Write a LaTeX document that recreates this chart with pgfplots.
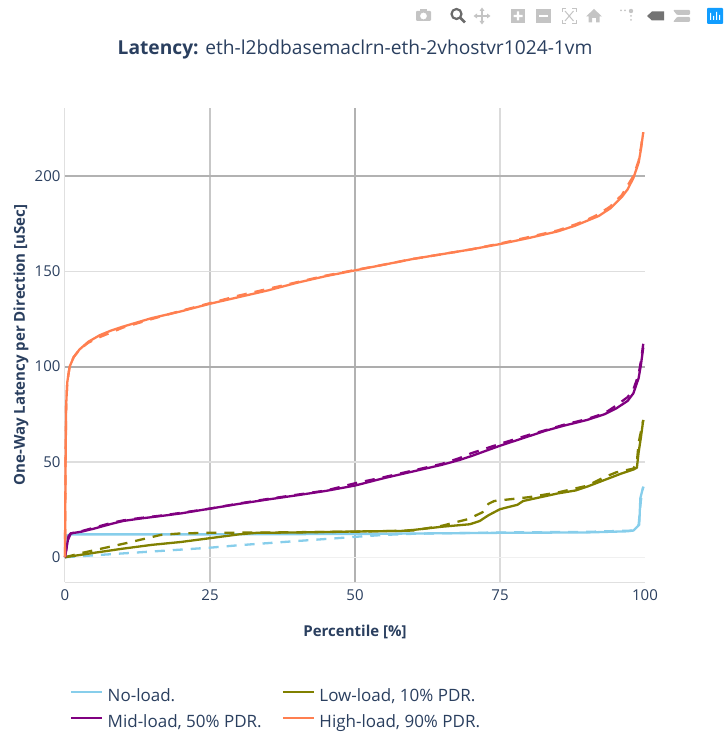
\documentclass[border=0pt]{standalone}
\usepackage{pgfplots}
\pgfplotsset{compat=1.18}
\usepackage{fontspec}
\setmainfont{Open Sans}
\definecolor{txt}{HTML}{2A3F5F}
\definecolor{noload}{HTML}{87CEEB}
\definecolor{lowload}{HTML}{808000}
\definecolor{midload}{HTML}{800080}
\definecolor{highload}{HTML}{FF7F50}
\definecolor{icon}{HTML}{C4C4C4}
\definecolor{logo}{HTML}{119DFF}
\begin{document}
\begin{tikzpicture}[x=1pt,y=1pt]
\path (0,0) rectangle (726,736);
\begin{axis}[
  at={(65pt,154pt)},anchor=south west,
  scale only axis,width=580pt,height=474pt,
  xmin=0,xmax=100,ymin=-13,ymax=235.7,
  clip=false,
  axis x line*=bottom,axis y line*=left,
  axis line style={draw=black!12,line width=1pt,-},
  xtick={0,25,50,75,100},ytick={0,50,100,150,200},
  tick style={draw=none},major tick length=0pt,
  tick label style={font=\fontsize{15}{17}\selectfont,text=txt},
  /pgf/number format/assume math mode=true,
  xticklabel style={yshift=-4pt},
  yticklabel style={xshift=-1pt},
  xlabel={\textbf{Percentile [\%]}},
  ylabel={\textbf{One-Way Latency per Direction [uSec]}},
  label style={font=\fontsize{15}{17}\selectfont,text=txt},
  xlabel style={at={(axis description cs:0.5,-0.1055)},anchor=center},
  ylabel style={at={(axis description cs:-0.076,0.5)},anchor=center,rotate=0},
  legend columns=2,
  legend style={at={(axis description cs:0.0086,-0.2148)},anchor=north west,draw=none,fill=none,
    font=\fontsize{17}{20}\selectfont,text=txt,inner sep=0pt,outer sep=0pt,
    /tikz/every even column/.append style={column sep=20pt},
    /tikz/every odd column/.append style={column sep=4.5pt},
    nodes={inner sep=0pt,text depth=8pt,text height=18pt}},
  legend cell align=left,
  legend image code/.code={\draw[#1,line width=2.2pt] (0pt,5pt) -- (31pt,5pt);},
]
% grid lines
\addplot[forget plot,draw=black!22,line width=1.3pt] coordinates {(25,-13)(25,235.7)};
\addplot[forget plot,draw=black!30,line width=1.3pt] coordinates {(50,-13)(50,235.7)};
\addplot[forget plot,draw=black!14,line width=1.3pt] coordinates {(75,-13)(75,235.7)};
\addplot[forget plot,draw=black!30,line width=1.3pt] coordinates {(0,200)(100,200)};
\addplot[forget plot,draw=black!13,line width=1.3pt] coordinates {(0,150)(100,150)};
\addplot[forget plot,draw=black!32,line width=1.7pt] coordinates {(0,99.8)(100,99.8)};
\addplot[forget plot,draw=black!13,line width=1.3pt] coordinates {(0,50)(100,50)};
\addplot[forget plot,draw=black!6,line width=1pt] coordinates {(0,0)(100,0)};
% no-load
\addplot[noload,line width=2.3pt,dash pattern=on 10pt off 8pt,forget plot] coordinates {
(0,0)(5,1)(10,2)(15,3)(25,5)(30,6.3)(40,8.5)(47,10)(50,10.7)(55,11.7)(60,12.3)(75,13)(90,13.3)(98,14)(98.9,17)(99.3,30)(99.7,37)};
\addplot[noload,line width=2.3pt,line join=round] coordinates {
(0,0)(0.3,11.5)(1,12)(25,12)(50,12.2)(75,12.8)(90,13)(97,13.6)(98,14)(99,17)(99.2,31)(99.7,37)};
\addlegendentry{No-load.}
% low-load
\addplot[lowload,line width=2.3pt,dash pattern=on 10pt off 8pt,forget plot] coordinates {
(0,0)(3,2.3)(10.7,7.5)(16.5,11.7)(20,12.5)(25,12.8)(35,13)(50,13.4)(60,14)(65,16.5)(69.5,20)(72,23.6)(73,28)(74,29.5)(80,31.5)(85,34)(90,37.5)(93,42)(95,44.5)(98,46.5)(98.6,50)(98.9,60)(99.7,72)};
\addplot[lowload,line width=2.3pt,line join=round] coordinates {
(0,0)(5,2.3)(10,4.5)(15,6.5)(20,8)(25,10)(30,12)(33,12.8)(40,13)(50,13.5)(58,13.8)(60,14.3)(65,16)(69.8,17.3)(71.5,19)(73,22)(75,25.2)(78,27.5)(79,29.5)(82,31.5)(85,33.5)(88,35)(90,37)(93,40.5)(96,44)(98,46)(98.6,47)(98.9,55)(99.3,63)(99.7,72)};
\addlegendentry{Low-load, 10\% PDR.}
% mid-load
\addplot[midload,line width=2.3pt,dash pattern=on 10pt off 8pt,forget plot] coordinates {
(0,0)(0.6,11)(1,12.5)(3,13.8)(5,15.5)(8,18)(10,19.3)(13,20.6)(17,22)(20,23.3)(25,25.5)(30,28.2)(35,30.6)(40,32.8)(45,35)(50,38.8)(55,42)(60,45.5)(65,49)(68,52)(70,54.5)(75,59.5)(80,64.2)(83,66.8)(86,69.5)(90,72.5)(93,75.5)(95,79.5)(97,84)(98,88)(98.9,96)(99.3,103)(99.7,112)};
\addplot[midload,line width=2.3pt,line join=round] coordinates {
(0,0)(0.5,9)(1,12.5)(3,13.5)(5,15)(8,17.5)(10,19)(13,20.3)(17,21.8)(20,23)(25,25.5)(30,28)(35,30.3)(40,32.5)(45,34.8)(50,37.6)(55,41.5)(60,45)(65,48.5)(68,51)(70,53)(75,58.5)(80,63.5)(83,66.5)(86,69)(90,72)(93,75)(95,78)(97,82)(98,86)(98.9,94)(99.3,101)(99.7,110)};
\addlegendentry{Mid-load, 50\% PDR.}
% high-load
\addplot[highload,line width=2.3pt,dash pattern=on 10pt off 8pt,forget plot] coordinates {
(0,0)(0.1,55)(0.2,80)(0.4,92)(0.8,100)(1.5,105)(2.5,109)(4,112.5)(6,115.5)(8,118)(10,120.5)(15,125)(20,129.3)(25,133.3)(30,137.3)(35,140.8)(40,144.3)(45,147.8)(50,150.7)(55,153.5)(60,156.5)(65,159)(70,161.5)(75,164.6)(80,168)(85,171.5)(88,174.6)(90,177)(92,180)(94,184)(96,190)(97,195)(98,200)(98.9,208)(99.3,215)(99.7,223)};
\addplot[highload,line width=2.3pt,line join=round] coordinates {
(0,0)(0.1,50)(0.2,80)(0.4,92)(0.8,100)(1.5,105)(2.5,109)(4,113)(6,116.5)(8,119)(10,121)(15,125.5)(20,129)(25,133)(30,136.5)(35,140)(40,144)(45,147.5)(50,150.5)(55,153.5)(60,156.5)(65,159)(70,161.5)(75,164.3)(80,167.5)(85,171)(88,174)(90,176.5)(92,179)(94,183)(96,189)(97,193)(98,199)(98.9,207)(99.3,214)(99.7,223)};
\addlegendentry{High-load, 90\% PDR.}
\end{axis}
% title
\node[text=txt,font=\fontsize{19.2}{23}\selectfont,anchor=center] at (355,686.5) {\textbf{Latency:} eth-l2bdbasemaclrn-eth-2vhostvr1024-1vm};
% mode bar
\begin{scope}[yshift=736pt,y=-1pt]
 \fill[icon,rounded corners=1pt,even odd rule] (416,11) rectangle (431,21) (423.5,16) circle (3.5);
 \fill[icon] (420,9.5) rectangle (427,12);
 \draw[black!58,line width=2.2pt] (456.5,14) circle (5);
 \draw[black!58,line width=2.6pt] (460.5,18) -- (465,22.5);
 \draw[icon,line width=1.4pt] (482,9) -- (482,23) (475,16) -- (489,16);
 \fill[icon] (482,7.5) -- (479.5,11) -- (484.5,11) -- cycle (482,24.5) -- (479.5,21) -- (484.5,21) -- cycle (473.5,16) -- (477,13.5) -- (477,18.5) -- cycle (490.5,16) -- (487,13.5) -- (487,18.5) -- cycle;
 \fill[icon] (511,9) rectangle (525,23);
 \fill[white] (513.5,14.8) rectangle (522.5,17.2) (516.8,11.5) rectangle (519.2,20.5);
 \fill[icon] (536,9) rectangle (551,23);
 \fill[white] (539,14.8) rectangle (548,17.2);
 \draw[icon,line width=1pt] (562,12) -- (562,8.5) -- (566,8.5) (572,8.5) -- (576.5,8.5) -- (576.5,12) (576.5,20) -- (576.5,23.5) -- (572,23.5) (566,23.5) -- (562,23.5) -- (562,20);
 \draw[icon,line width=1pt] (565,11) -- (573.5,21) (573.5,11) -- (565,21);
 \fill[icon] (594,9) -- (602,16.5) -- (599.5,16.5) -- (599.5,22.5) -- (596,22.5) -- (596,18) -- (592,18) -- (592,22.5) -- (588.5,22.5) -- (588.5,16.5) -- (586,16.5) -- cycle;
 \fill[icon] (621,10.5) circle (1) (625,10.5) circle (1) (631,11) circle (2.2) (631,16) circle (1) (631,20) circle (1);
 \fill[black!55] (647,16) -- (652,11.5) -- (664,11.5) -- (664,20.5) -- (652,20.5) -- cycle;
 \fill[icon,rounded corners=1pt] (673,10) -- (690,10) -- (690,15) -- (677,15) -- cycle (677,17) -- (690,17) -- (690,22) -- (673,22) -- cycle;
 \fill[logo,rounded corners=1pt] (707,8) rectangle (723,24);
 \fill[white] (710,13) rectangle (711,20) (713,16) rectangle (714.2,20) (716,12) rectangle (717.2,20) (719,15) rectangle (720.2,20);
\end{scope}
\end{tikzpicture}
\end{document}
